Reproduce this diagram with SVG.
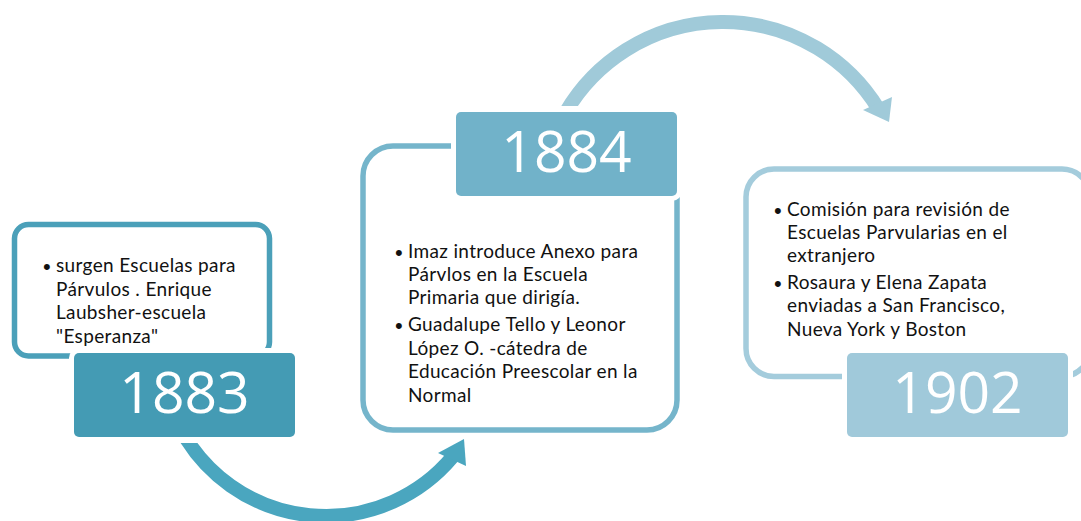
<svg xmlns="http://www.w3.org/2000/svg" width="1081" height="521" viewBox="0 0 1081 521">
<defs>
<style>
.frame{fill:#fff;stroke-width:5.5}
.year{stroke:#fff;stroke-width:10;paint-order:stroke}
.yt{font-family:"Open Sans","Liberation Sans",sans-serif;font-size:57px;fill:#fff;text-anchor:middle}
.bt{font-family:Lato,"Open Sans",sans-serif;font-size:19px;letter-spacing:0.35px;fill:#111}
.bl{font-family:"Liberation Sans",sans-serif;font-size:22px;fill:#111}
.arc{fill:none;stroke-width:14}
</style>
<clipPath id="clipB"><path d="M0,443H300V0H1081V521H0Z"/></clipPath>
<clipPath id="clipT"><path d="M0,0H1081V521H700V106H0Z"/></clipPath>
</defs>
<rect width="1081" height="521" fill="#fff"/>
<g id="connectors">
<path class="arc" stroke="#4aa6bf" clip-path="url(#clipB)" d="M181.1,430 A165,165 0 0,0 452.4,457.1"/>
<polygon fill="#4aa6bf" points="438,453 464,439 466,466"/>
<path class="arc" stroke="#a0cad9" clip-path="url(#clipT)" d="M565.8,112 A182.25,182.25 0 0,1 878.4,109"/>
<polygon fill="#a0cad9" points="863,110 892,97 889,122"/>
</g>
<g id="node-1883">
<rect class="frame" stroke="#4ba0b9" x="14.5" y="224.5" width="255" height="131.5" rx="14"/>
<text class="bl" x="43" y="274">•</text>
<text class="bt"><tspan x="56" y="272">surgen Escuelas para</tspan><tspan x="56" y="296">Párvulos . Enrique</tspan><tspan x="56" y="319">Laubsher-escuela</tspan><tspan x="56" y="343">"Esperanza"</tspan></text>
<rect class="year" fill="#449bb4" x="74" y="353" width="221" height="84" rx="5"/>
<text class="yt" x="184.5" y="413">1883</text>
</g>
<g id="node-1884">
<rect class="frame" stroke="#75b5cb" x="363" y="146" width="314" height="284" rx="30"/>
<text class="bl"><tspan x="395" y="260">•</tspan><tspan x="395" y="333">•</tspan></text>
<text class="bt"><tspan x="408" y="258">Imaz introduce Anexo para</tspan><tspan x="408" y="281">Párvlos en la Escuela</tspan><tspan x="408" y="304">Primaria que dirigía.</tspan><tspan x="408" y="331">Guadalupe Tello y Leonor</tspan><tspan x="408" y="355">López O. -cátedra de</tspan><tspan x="408" y="378">Educación Preescolar en la</tspan><tspan x="408" y="402">Normal</tspan></text>
<rect class="year" fill="#71b2c9" x="456" y="112" width="221" height="84" rx="5"/>
<text class="yt" x="566.5" y="172">1884</text>
</g>
<g id="node-1902">
<rect class="frame" stroke="#a4ccdc" x="746" y="169" width="344" height="207.5" rx="28"/>
<text class="bl"><tspan x="774" y="218">•</tspan><tspan x="774" y="291">•</tspan></text>
<text class="bt"><tspan x="787" y="216">Comisión para revisión de</tspan><tspan x="787" y="239">Escuelas Parvularias en el</tspan><tspan x="787" y="262">extranjero</tspan><tspan x="787" y="289">Rosaura y Elena Zapata</tspan><tspan x="787" y="312">enviadas a San Francisco,</tspan><tspan x="787" y="336">Nueva York y Boston</tspan></text>
<rect class="year" fill="#a0c9da" x="847" y="353" width="221" height="84" rx="5"/>
<text class="yt" x="957.5" y="413">1902</text>
</g>
</svg>
